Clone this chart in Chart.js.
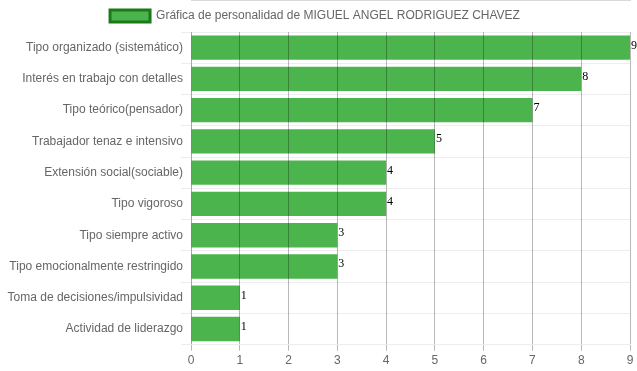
<!DOCTYPE html>
<html><head><meta charset="utf-8">
<script src="https://cdn.jsdelivr.net/npm/chart.js@4.4.0/dist/chart.umd.min.js"></script>
<style>html,body{margin:0;padding:0;background:#fff}#wrap{width:637px;height:371px}</style>
</head><body><div id="wrap"><canvas id="c"></canvas></div>
<script>
const categories = ["Tipo organizado (sistemático)","Interés en trabajo con detalles","Tipo teórico(pensador)","Trabajador tenaz e intensivo","Extensión social(sociable)","Tipo vigoroso","Tipo siempre activo","Tipo emocionalmente restringido","Toma de decisiones/impulsividad","Actividad de liderazgo"];
const values = [9,8,7,5,4,4,3,3,1,1];
const seriesLabel = "Gráfica de personalidad de MIGUEL ANGEL RODRIGUEZ CHAVEZ";
const xTicks = [0,1,2,3,4,5,6,7,8,9];

Chart.defaults.font.family = "'Liberation Sans', Arial, sans-serif";
Chart.defaults.font.size = 12;
Chart.defaults.color = "#666";

const valueLabels = {
  id: 'valueLabels',
  afterUpdate(chart) {
    const lg = chart.legend;
    if (lg && lg.legendHitBoxes) lg.legendHitBoxes.forEach(h => { h.left -= 3; });
  },
  afterDatasetsDraw(chart) {
    const ctx = chart.ctx;
    const meta = chart.getDatasetMeta(0);
    ctx.save();
    ctx.font = "12px 'Liberation Serif', 'Times New Roman', serif";
    ctx.fillStyle = "#000";
    ctx.textAlign = "left";
    ctx.textBaseline = "top";
    meta.data.forEach((bar, i) => {
      ctx.fillText(String(values[i]), bar.x + 1, bar.y - bar.height/2 + 4);
    });
    ctx.restore();
  }
};

new Chart(document.getElementById('c'), {
  type: 'bar',
  data: {
    labels: categories,
    datasets: [{
      label: seriesLabel,
      data: values,
      backgroundColor: 'rgba(76,180,76,1)',
      borderWidth: 0,
      barPercentage: 0.78,
      categoryPercentage: 1.0
    }]
  },
  options: {
    indexAxis: 'y',
    responsive: true,
    maintainAspectRatio: false,
    animation: false,
    layout: { padding: { left: 0, right: 7, top: 0, bottom: 0 } },
    plugins: {
      legend: {
        labels: {
          boxWidth: 40, boxHeight: 12,
          generateLabels(chart) {
            return [{ text: seriesLabel, fillStyle: 'rgba(76,180,76,1)', strokeStyle: '#1a7a1a', lineWidth: 3, hidden: false, datasetIndex: 0, fontColor: '#666' }];
          }
        }
      },
      tooltip: { enabled: false }
    },
    scales: {
      x: {
        min: 0, max: 9,
        afterBuildTicks(axis) { axis.ticks = xTicks.map(v => ({ value: v })); },
        grid: { color: 'rgba(0,0,0,0.28)', z: 1, tickLength: 6 },
        border: { color: 'rgba(0,0,0,0.3)' },
        ticks: { stepSize: 1, padding: 3 }
      },
      y: {
        afterFit(axis) { axis.width = 191; },
        grid: { color: 'rgba(0,0,0,0.07)', offset: true, tickLength: 10 },
        border: { color: 'rgba(0,0,0,0.1)' },
        ticks: { color: '#666', padding: -2 }
      }
    }
  },
  plugins: [valueLabels]
});
</script></body></html>
